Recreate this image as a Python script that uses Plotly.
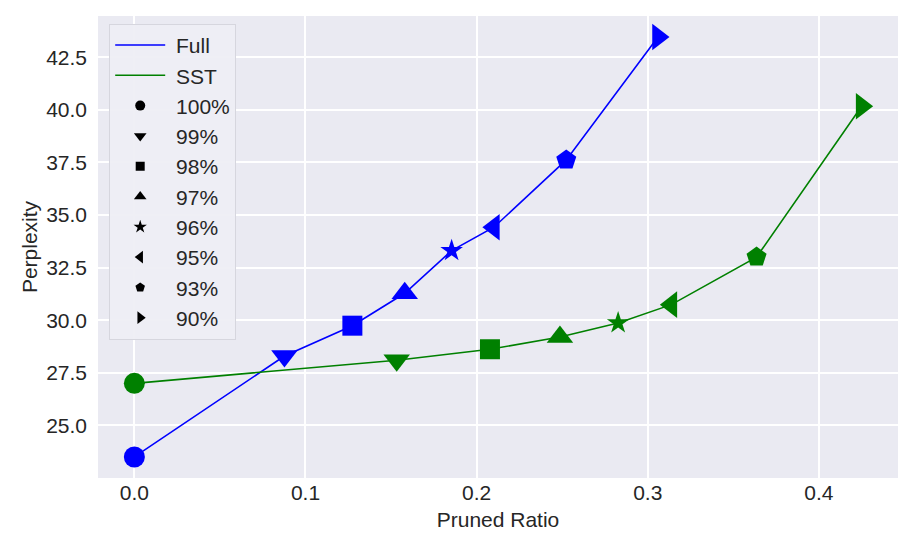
import plotly.graph_objects as go

# data
levels = ["100%", "99%", "98%", "97%", "96%", "95%", "93%", "90%"]
symbols = ["circle", "triangle-down", "square", "triangle-up", "star",
           "triangle-left", "pentagon", "triangle-right"]
sizes = [21, 23, 20, 23, 17, 23, 21, 23]
legend_sizes = [10, 11, 9, 11, 10, 11, 10, 11]

full_ratio = [0.0, 0.0877, 0.1274, 0.158, 0.1854, 0.2101, 0.2524, 0.306]
full_ppl = [23.5, 28.3, 29.74, 31.28, 33.31, 34.42, 37.62, 43.46]

sst_ratio = [0.0, 0.1533, 0.2078, 0.2487, 0.2827, 0.3138, 0.3636, 0.425]
sst_ppl = [27.0, 28.1, 28.62, 29.2, 29.87, 30.74, 33.0, 40.17]

x_ticks = [0.0, 0.1, 0.2, 0.3, 0.4]
y_ticks = [25.0, 27.5, 30.0, 32.5, 35.0, 37.5, 40.0, 42.5]

FONT = "Liberation Sans, Arial, sans-serif"

fig = go.Figure()
for name, xs, ys, color in [("Full", full_ratio, full_ppl, "#0000FF"),
                            ("SST", sst_ratio, sst_ppl, "#008000")]:
    fig.add_trace(go.Scatter(x=xs, y=ys, mode="lines", name=" " + name,
                             line=dict(color=color, width=1.6)))
    fig.add_trace(go.Scatter(x=xs, y=ys, mode="markers", showlegend=False,
                             marker=dict(color=color, symbol=symbols, size=sizes,
                                         opacity=1, line=dict(width=0))))

# legend-only entries for the markers
for lvl, sym, sz in zip(levels, symbols, legend_sizes):
    fig.add_trace(go.Scatter(x=[None], y=[None], mode="markers", name=" " + lvl,
                             marker=dict(color="black", symbol=sym, size=sz, opacity=1)))

fig.update_layout(
    width=918, height=544,
    margin=dict(l=90, r=28, t=8, b=74),
    paper_bgcolor="white",
    plot_bgcolor="#EAEAF2",
    font=dict(family=FONT, size=21, color="#262626"),
    legend=dict(x=0.014, y=0.983, xanchor="left", yanchor="top",
                bgcolor="rgba(238,238,244,0.95)", bordercolor="#D6D6DE", borderwidth=1,
                font=dict(size=21), itemsizing="trace", itemwidth=50, tracegroupgap=0),
)
fig.update_xaxes(range=[-0.02125, 0.44625], tickvals=x_ticks, tickformat=".1f",
                 showgrid=True, gridcolor="white", gridwidth=1.5, zeroline=False,
                 showline=False, ticks="", ticklabelstandoff=0,
                 title=dict(text="Pruned Ratio", font=dict(size=21), standoff=9))
fig.update_yaxes(range=[22.5, 44.46], tickvals=y_ticks, tickformat=".1f",
                 showgrid=True, gridcolor="white", gridwidth=1.5, zeroline=False,
                 showline=False, ticks="", ticklabelstandoff=10,
                 title=dict(text="Perplexity", font=dict(size=21), standoff=2))

fig.write_html("out.html")
